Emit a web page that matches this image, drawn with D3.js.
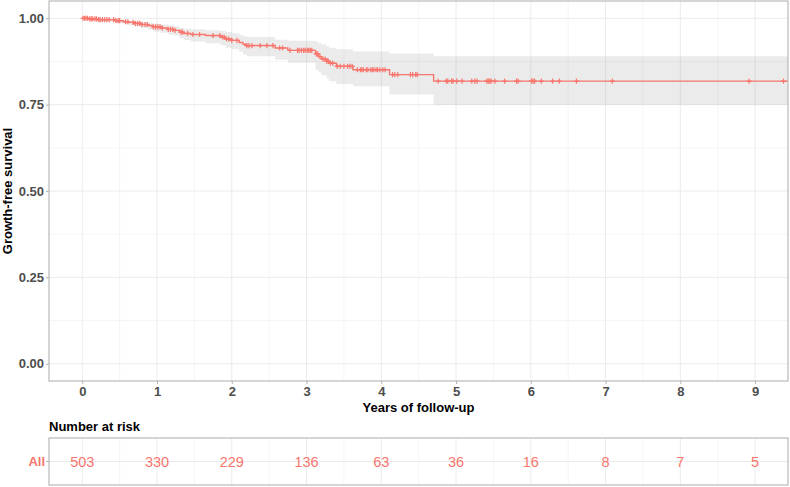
<!DOCTYPE html>
<html><head><meta charset="utf-8">
<script src="https://cdn.jsdelivr.net/npm/d3@7"></script>
<style>
html,body{margin:0;padding:0;background:#fff;}
svg{display:block;font-family:"Liberation Sans",Arial,sans-serif;}
</style></head>
<body>
<script>
// ---- data ----
const stepTimes = [0,0.08,0.2,0.45,0.55,0.62,0.7,0.78,0.88,0.95,1.05,1.15,1.22,1.3,1.36,1.45,1.65,1.85,1.92,2.0,2.1,2.15,2.2,2.58,2.75,3.12,3.16,3.2,3.27,3.3,3.4,3.62,4.11,4.70];
const survival = [1.000,0.998,0.996,0.993,0.990,0.988,0.985,0.982,0.979,0.975,0.972,0.968,0.965,0.960,0.956,0.953,0.950,0.945,0.940,0.936,0.930,0.925,0.921,0.914,0.907,0.897,0.889,0.882,0.876,0.870,0.861,0.851,0.837,0.818];
const upper = [1.000,1.000,0.999,0.997,0.995,0.993,0.991,0.989,0.987,0.984,0.982,0.979,0.976,0.972,0.970,0.968,0.965,0.963,0.960,0.957,0.952,0.948,0.946,0.938,0.935,0.933,0.928,0.924,0.919,0.915,0.910,0.904,0.898,0.890];
const lower = [1.000,0.994,0.990,0.986,0.983,0.980,0.976,0.972,0.967,0.962,0.958,0.953,0.950,0.942,0.937,0.933,0.928,0.922,0.915,0.910,0.903,0.895,0.890,0.880,0.871,0.851,0.843,0.835,0.825,0.818,0.810,0.803,0.779,0.750];
const censorTimes = [0.01,0.03,0.05,0.07,0.1,0.12,0.14,0.17,0.19,0.22,0.24,0.27,0.3,0.33,0.36,0.42,0.45,0.48,0.5,0.58,0.61,0.68,0.71,0.74,0.77,0.8,0.84,0.87,0.95,0.98,1.01,1.04,1.07,1.15,1.18,1.21,1.24,1.32,1.34,1.41,1.48,1.57,1.75,1.84,1.88,1.9,1.93,1.96,2.0,2.07,2.2,2.23,2.27,2.38,2.47,2.55,2.64,2.68,2.78,2.88,2.9,2.93,2.96,2.98,3.01,3.03,3.05,3.07,3.13,3.15,3.18,3.22,3.25,3.27,3.29,3.32,3.35,3.41,3.45,3.5,3.55,3.58,3.61,3.68,3.72,3.74,3.76,3.8,3.82,3.86,3.88,3.9,3.93,3.95,3.98,4.02,4.05,4.15,4.18,4.22,4.39,4.42,4.46,4.48,4.76,4.87,4.89,4.94,4.96,5.01,5.08,5.21,5.25,5.28,5.41,5.43,5.45,5.47,5.52,5.65,5.81,5.83,6.01,6.03,6.05,6.14,6.29,6.38,6.61,7.09,8.92,9.38];
const endTime = 9.44;
const xTicks = [0,1,2,3,4,5,6,7,8,9];
const yTicks = [0,0.25,0.5,0.75,1];
const yTickLabels = ["0.00","0.25","0.50","0.75","1.00"];
const riskTimes = [0,1,2,3,4,5,6,7,8,9];
const riskCounts = [503,330,229,136,63,36,16,8,7,5];
const strataLabel = "All";
const yTitle = "Growth-free survival";
const xTitle = "Years of follow-up";
const riskTitle = "Number at risk";

// ---- layout ----
const W = 790, H = 487;
const P = {l:49, r:788, t:1, b:381};
const R = {t:438, b:485};
const col = "#F8766D";
const svg = d3.select("body").append("svg").attr("width",W).attr("height",H);

const x = d3.scaleLinear().domain([-0.445, 9.44]).range([P.l, P.r]);
const y = d3.scaleLinear().domain([-0.05, 1.05]).range([P.b, P.t]);

svg.append("clipPath").attr("id","pc").append("rect")
  .attr("x",P.l).attr("y",P.t).attr("width",P.r-P.l).attr("height",P.b-P.t);

// grids main
const g = svg.append("g");
const minorX = d3.range(-0.5, 10, 1).filter(v=>x(v)>P.l && x(v)<P.r);
const minorY = [0.125,0.375,0.625,0.875];
g.selectAll(".mx").data(minorX).enter().append("line")
  .attr("x1",d=>x(d)).attr("x2",d=>x(d)).attr("y1",P.t).attr("y2",P.b)
  .attr("stroke","#f3f3f3").attr("stroke-width",0.8);
g.selectAll(".my").data(minorY).enter().append("line")
  .attr("x1",P.l).attr("x2",P.r).attr("y1",d=>y(d)).attr("y2",d=>y(d))
  .attr("stroke","#f3f3f3").attr("stroke-width",0.8);
g.selectAll(".gx").data(xTicks).enter().append("line")
  .attr("x1",d=>x(d)).attr("x2",d=>x(d)).attr("y1",P.t).attr("y2",P.b)
  .attr("stroke","#ebebeb").attr("stroke-width",1);
g.selectAll(".gy").data(yTicks).enter().append("line")
  .attr("x1",P.l).attr("x2",P.r).attr("y1",d=>y(d)).attr("y2",d=>y(d))
  .attr("stroke","#ebebeb").attr("stroke-width",1);

// data table
const steps = stepTimes.map((t,i)=>({t, s:survival[i], hi:upper[i], lo:lower[i]}));
const last = steps[steps.length-1];
const stepsExt = steps.concat([{t:endTime, s:last.s, hi:last.hi, lo:last.lo}]);
function survAt(t){ let v=1; for(const st of steps){ if(st.t<=t) v=st.s; } return v; }

const plot = svg.append("g").attr("clip-path","url(#pc)");
plot.append("path").datum(stepsExt)
  .attr("d", d3.area().curve(d3.curveStepAfter).x(d=>x(d.t)).y0(d=>y(d.lo)).y1(d=>y(d.hi)))
  .attr("fill","#8a8a8a").attr("fill-opacity",0.17);
plot.append("path").datum(stepsExt)
  .attr("d", d3.line().curve(d3.curveStepAfter).x(d=>x(d.t)).y(d=>y(d.s)))
  .attr("fill","none").attr("stroke",col).attr("stroke-width",1.4);
const cs = plot.append("g");
censorTimes.forEach(t=>{
  const cx=x(t), cy=y(survAt(t));
  cs.append("path").attr("d",`M${cx-2.6},${cy}H${cx+2.6}M${cx},${cy-2.6}V${cy+2.6}`)
    .attr("stroke",col).attr("stroke-width",1.2).attr("fill","none");
});

// border
svg.append("rect").attr("x",P.l).attr("y",P.t).attr("width",P.r-P.l).attr("height",P.b-P.t)
  .attr("fill","none").attr("stroke","#b3b3b3").attr("stroke-width",1.1);

// axes
const yAxis = svg.append("g").attr("transform",`translate(${P.l},0)`)
  .call(d3.axisLeft(y).tickValues(yTicks).tickFormat((d,i)=>yTickLabels[i]).tickSize(3).tickPadding(2));
const xAxis = svg.append("g").attr("transform",`translate(0,${P.b})`)
  .call(d3.axisBottom(x).tickValues(xTicks).tickSize(3).tickPadding(3));
[yAxis,xAxis].forEach(a=>{
  a.select(".domain").remove();
  a.selectAll("line").attr("stroke","#b3b3b3");
  a.selectAll("text").attr("fill","#4d4d4d").attr("font-size","13px").attr("font-weight","bold")
    .attr("font-family","Liberation Sans, Arial, sans-serif");
});

svg.append("text").attr("x",(P.l+P.r)/2).attr("y",412).attr("text-anchor","middle")
  .attr("font-size","13px").attr("font-weight","bold").attr("fill","#000").text(xTitle);
svg.append("text").attr("transform",`translate(12,${(P.t+P.b)/2}) rotate(-90)`).attr("text-anchor","middle")
  .attr("font-size","13px").attr("font-weight","bold").attr("fill","#000").text(yTitle);

// risk table
svg.append("text").attr("x",P.l).attr("y",431).attr("font-size","13px").attr("font-weight","bold")
  .attr("fill","#000").text(riskTitle);
const rc = (R.t+R.b)/2;
const rg = svg.append("g");
rg.selectAll(".rmx").data(minorX).enter().append("line")
  .attr("x1",d=>x(d)).attr("x2",d=>x(d)).attr("y1",R.t).attr("y2",R.b)
  .attr("stroke","#f3f3f3").attr("stroke-width",0.8);
rg.selectAll(".rgx").data(xTicks).enter().append("line")
  .attr("x1",d=>x(d)).attr("x2",d=>x(d)).attr("y1",R.t).attr("y2",R.b)
  .attr("stroke","#ebebeb").attr("stroke-width",1);
rg.append("line").attr("x1",P.l).attr("x2",P.r).attr("y1",rc).attr("y2",rc)
  .attr("stroke","#ebebeb").attr("stroke-width",1);
rg.selectAll(".rn").data(riskTimes).enter().append("text")
  .attr("x",d=>x(d)).attr("y",rc+5).attr("text-anchor","middle")
  .attr("font-size","14.5px").attr("fill",col).text((d,i)=>riskCounts[i]);
svg.append("rect").attr("x",P.l).attr("y",R.t).attr("width",P.r-P.l).attr("height",R.b-R.t)
  .attr("fill","none").attr("stroke","#b3b3b3").attr("stroke-width",1.1);
svg.append("line").attr("x1",P.l-3).attr("x2",P.l).attr("y1",rc).attr("y2",rc).attr("stroke","#b3b3b3");
svg.append("text").attr("x",P.l-4).attr("y",rc+4.5).attr("text-anchor","end")
  .attr("font-size","13px").attr("font-weight","bold").attr("fill",col).text(strataLabel);
</script>
</body></html>
